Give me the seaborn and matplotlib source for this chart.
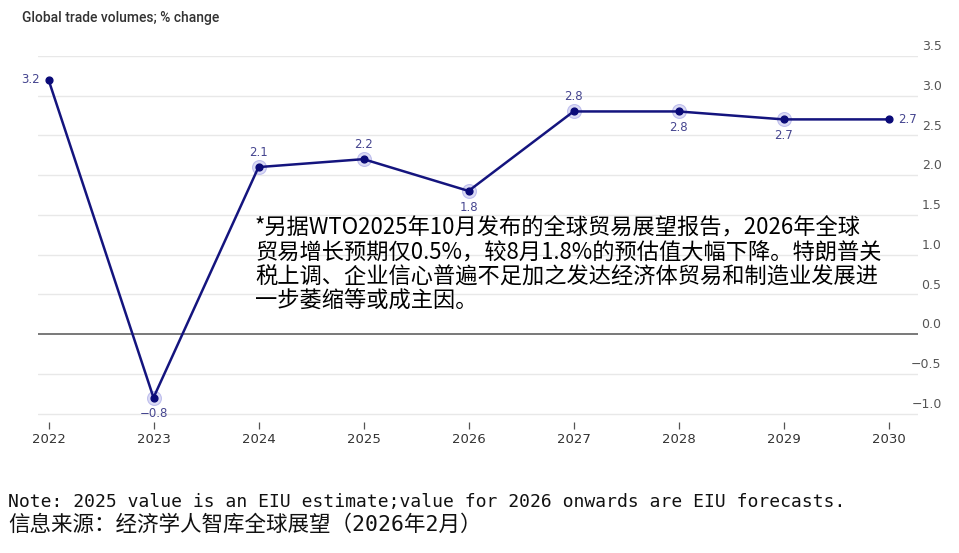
import matplotlib.pyplot as plt
import seaborn as sns
import pandas as pd
from matplotlib.transforms import ScaledTranslation

years = [2022, 2023, 2024, 2025, 2026, 2027, 2028, 2029, 2030]
values = [3.2, -0.8, 2.1, 2.2, 1.8, 2.8, 2.8, 2.7, 2.7]
labels = ['3.2', '−0.8', '2.1', '2.2', '1.8', '2.8', '2.8', '2.7', '2.7']
label_pos = ['left', 'below', 'above', 'above', 'below', 'above', 'below', 'below', 'right']
halo = [False, True, True, True, True, True, True, True, False]
yticks = [-1.0, -0.5, 0.0, 0.5, 1.0, 1.5, 2.0, 2.5, 3.0, 3.5]

title = 'Global trade volumes; % change'
note_lines = [
    '*另据WTO2025年10月发布的全球贸易展望报告，2026年全球',
    '贸易增长预期仅0.5%，较8月1.8%的预估值大幅下降。特朗普关',
    '税上调、企业信心普遍不足加之发达经济体贸易和制造业发展进',
    '一步萎缩等或成主因。',
]
footnote = 'Note: 2025 value is an EIU estimate;value for 2026 onwards are EIU forecasts.'
source = '信息来源：经济学人智库全球展望（2026年2月）'

sns.set_theme(style='white')
plt.rcParams['font.family'] = ['DejaVu Sans', 'Noto Sans CJK SC']

df = pd.DataFrame({'year': years, 'value': values})
line_color = '#14147e'
label_color = '#45458f'

fig = plt.figure(figsize=(9.59, 5.53), dpi=100)
ax = fig.add_axes([38 / 959, 1 - 421.5 / 553, (918 - 38) / 959, (421.5 - 55.8) / 553])

for y in yticks:
    if y == 0:
        ax.axhline(y, color='#555555', lw=1.1, zorder=1)
    else:
        ax.axhline(y, color='#e8e8e8', lw=1.0, zorder=0)

sns.lineplot(data=df, x='year', y='value', ax=ax, color=line_color, lw=1.8, zorder=3)
halo_df = df[halo]
ax.scatter(halo_df['year'], halo_df['value'], s=100, color='#d2d2f3', alpha=0.8,
           edgecolor='#b4b4ea', lw=0.8, zorder=2)
ax.scatter(df['year'], df['value'], s=24, color='#0a0a78', zorder=4)

offsets = {'left': (-6, 0, 'right', 'center'), 'right': (7, 0, 'left', 'center'),
           'above': (0, 6, 'center', 'bottom'), 'below': (0, -7, 'center', 'top')}
for x, v, t, p in zip(years, values, labels, label_pos):
    dx, dy, ha, va = offsets[p]
    ax.annotate(t, (x, v), xytext=(dx, dy), textcoords='offset points', ha=ha, va=va,
                fontsize=8.5, color=label_color)

ax.set_xlim(2021.9, 2030.28)
ax.set_ylim(-1.1, 3.5)
ax.set_xticks(years)
ax.set_xticklabels([str(y) for y in years], fontsize=9.5, color='#333333')
ax.tick_params(axis='x', bottom=True, direction='out', length=5, width=0.9,
               color='#555555', pad=3)
ax.yaxis.tick_right()
ax.set_yticks(yticks)
ax.set_yticklabels([f'{y:.1f}'.replace('-', '−') for y in yticks], fontsize=9, color='#555555')
ax.tick_params(axis='y', right=False, left=False, pad=11)
for lab in ax.get_yticklabels():
    lab.set_horizontalalignment('right')
    lab.set_verticalalignment('bottom')
    lab.set_transform(lab.get_transform() + ScaledTranslation(0, 2 / 72, fig.dpi_scale_trans))
ax.set_xlabel('')
ax.set_ylabel('')
for s in ax.spines.values():
    s.set_visible(False)

fig.text(22 / 959, 1 - 18 / 553, title, fontsize=10, color='#333333', fontweight='medium',
         va='center', ha='left', family=['Roboto', 'DejaVu Sans'])

fig.text(255 / 959, 1 - 217 / 553, '\n'.join(note_lines), fontsize=16, color='black',
         va='top', ha='left', linespacing=1.07, family=['Noto Sans CJK SC', 'DejaVu Sans'])

fig.text(8 / 959, 1 - 502 / 553, footnote, fontsize=13.0, color='#111111', va='center',
         ha='left', family=['DejaVu Sans Mono', 'Noto Sans CJK SC'])
fig.text(8 / 959, 1 - 525 / 553, source, fontsize=15.5, color='#111111', va='center',
         ha='left', family=['DejaVu Sans Mono', 'Noto Sans CJK SC'])

fig.savefig('out.png', dpi=100)
